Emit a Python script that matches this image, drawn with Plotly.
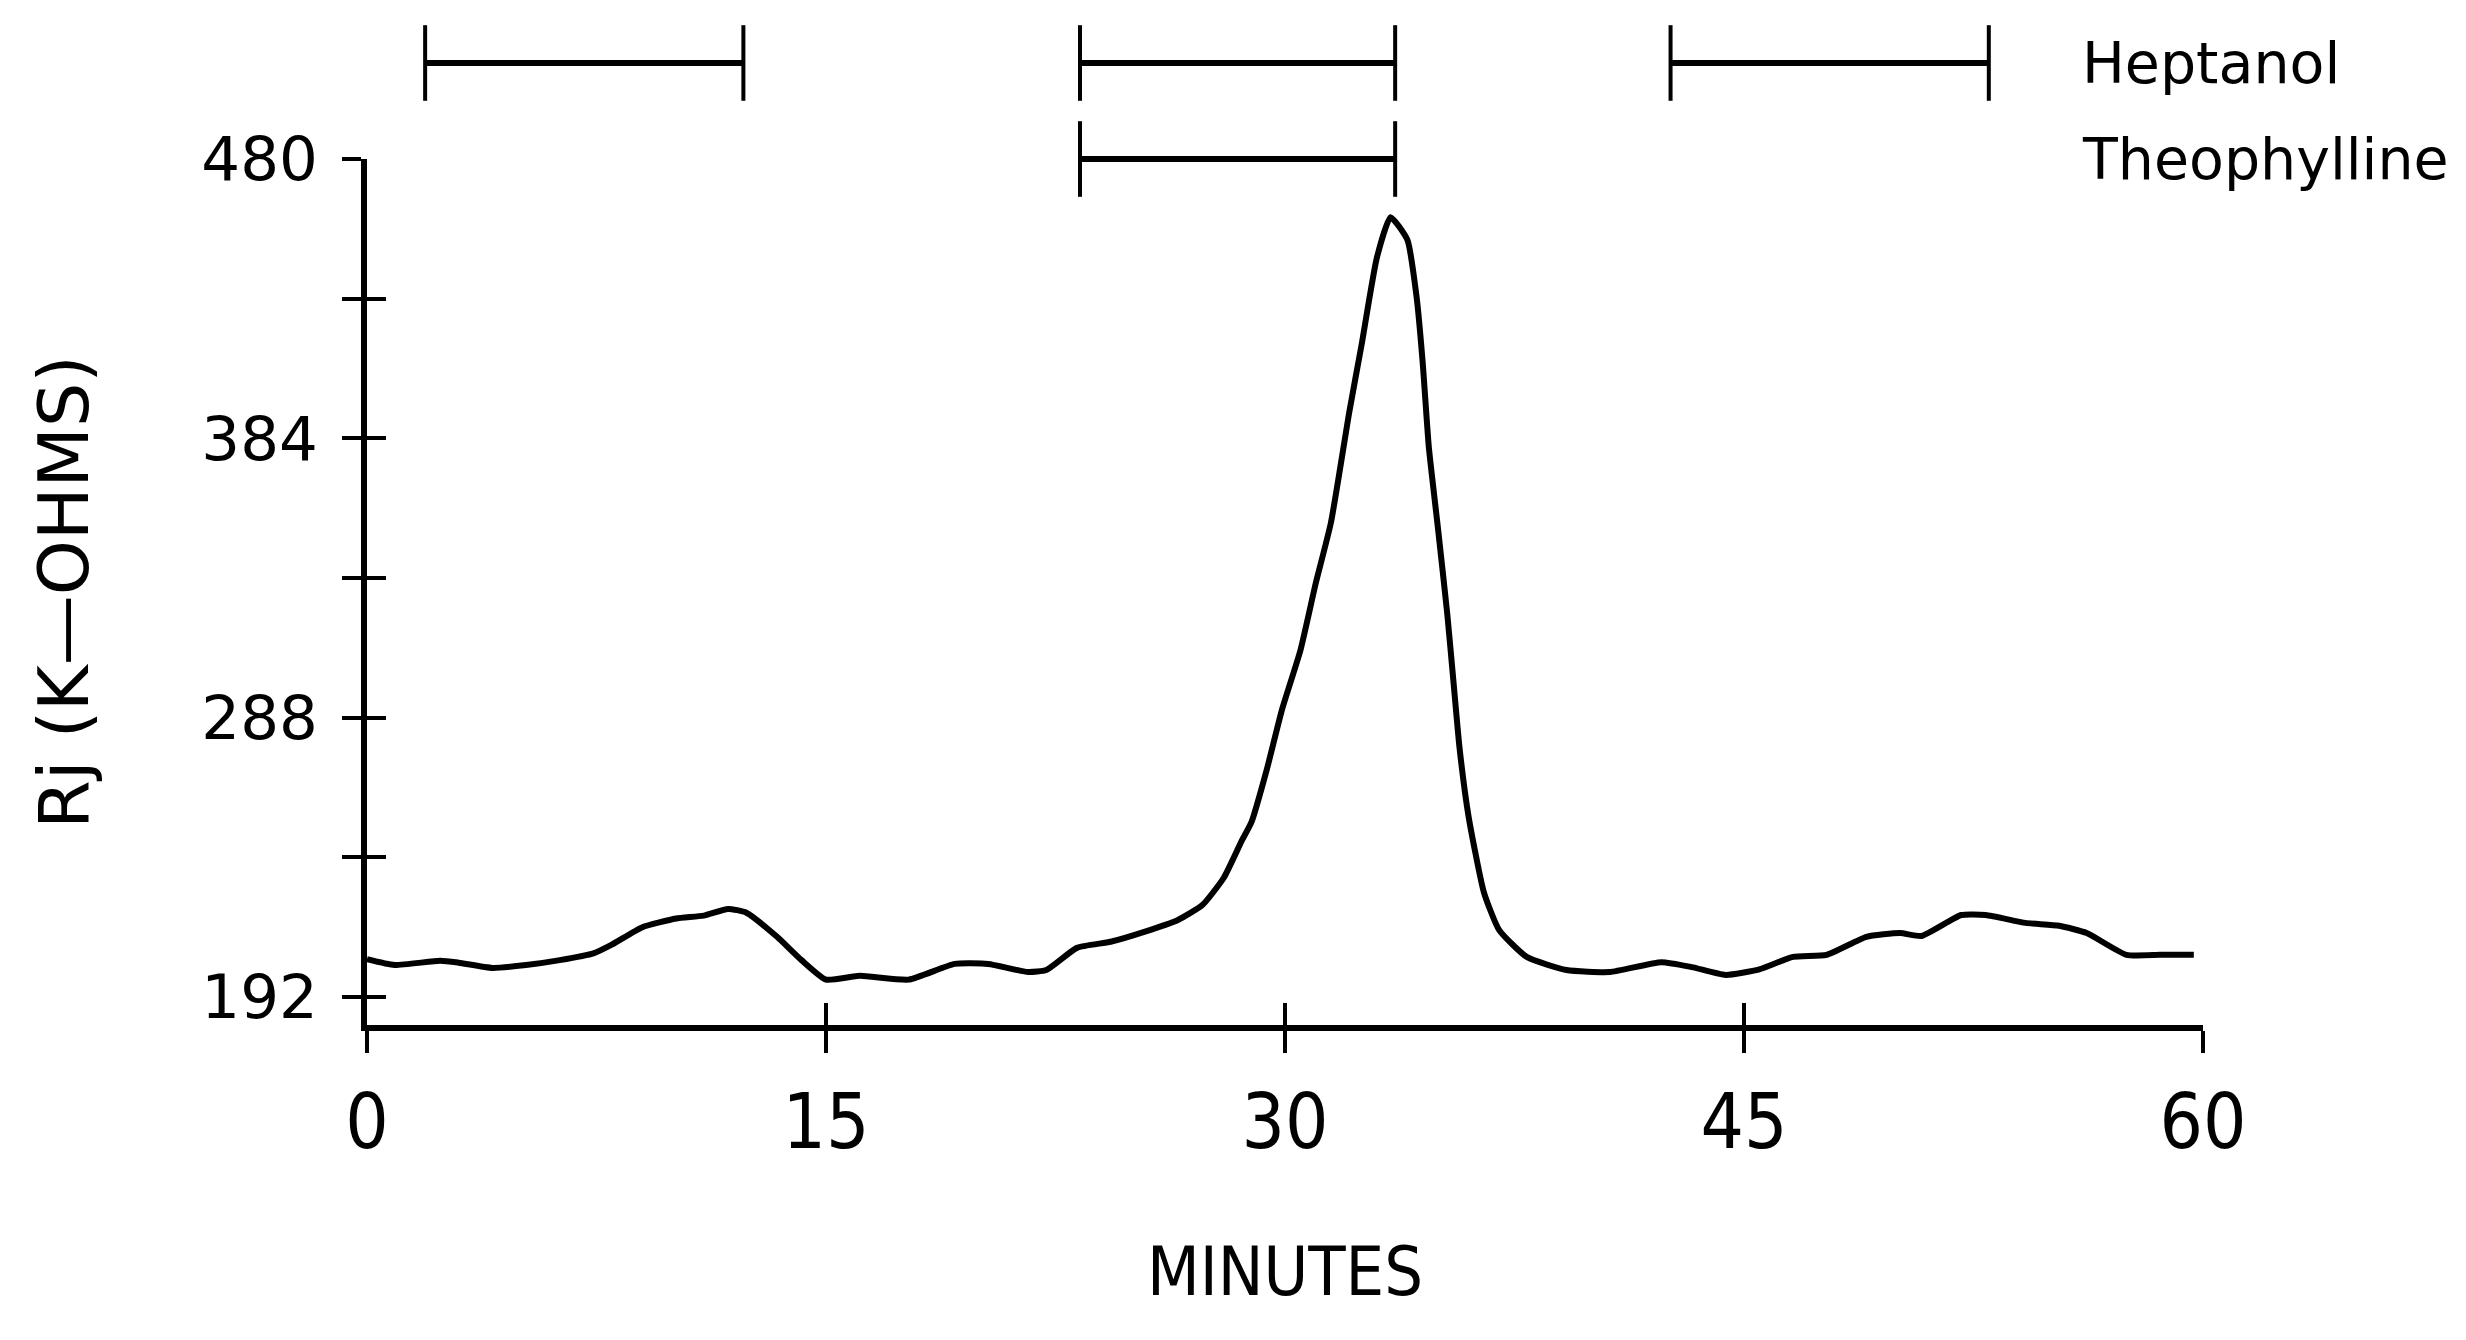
import plotly.graph_objects as go

# ---- data ----
minutes = [0.0, 0.9, 2.4, 3.0, 4.1, 5.2, 6.3, 7.4, 8.0, 9.0, 10.1, 11.0, 11.8, 12.4,
           13.4, 14.2, 15.0, 16.1, 17.7, 19.2, 20.3, 21.6, 22.2, 23.2, 24.3, 25.4,
           26.5, 27.3, 28.0, 28.6, 28.9, 29.4, 29.9, 30.5, 31.0, 31.5, 32.1, 32.5,
           33.0, 33.45, 34.0, 34.3, 34.5, 34.7, 35.0, 35.3, 35.5, 35.7, 36.0,
           36.5, 37.0, 37.9, 39.2, 40.6, 42.3, 43.3, 44.4, 45.5, 46.6, 47.7, 49.0,
           50.1, 50.8, 52.1, 52.9, 54.2, 55.3, 56.2, 57.5, 58.6, 59.7]
rj_kohms = [205, 203, 204.5, 203.8, 202, 203, 204.7, 207, 210, 216, 219, 220, 222.3, 221,
            212.7, 204.7, 198, 199.3, 198, 203.4, 203.4, 200.6, 201.3, 208.9, 211, 214.4,
            218.5, 223.6, 233, 246, 252, 270, 290.7, 311, 334, 355, 393, 416,
            446, 460, 452.2, 432.6, 410, 381, 353, 324, 301, 278, 254,
            228, 215, 205.8, 201.3, 200.6, 204, 202.3, 199.6, 201.5, 205.8, 206.5, 212.7,
            214, 213, 220.2, 220.2, 217.5, 216.5, 214, 206.5, 206.5, 206.5]

heptanol_start = [1.9, 23.3, 42.6]
heptanol_end = [12.3, 33.6, 53.0]
theophylline_start = [23.3]
theophylline_end = [33.6]
drug_names = ["Theophylline", "Heptanol"]   # row 0, row 1

x_ticks = [0, 15, 30, 45, 60]
y_ticks = [192, 240, 288, 336, 384, 432, 480]
y_ticktext = ["192", "", "288", "", "384", "", "480"]

NARROW = "Liberation Sans Narrow, Arial Narrow, DejaVu Sans Condensed, sans-serif"
WIDE = "DejaVu Sans, Verdana, sans-serif"

fig = go.Figure()

fig.add_trace(go.Scatter(x=minutes, y=rj_kohms, mode="lines",
                         line=dict(color="black", width=6, shape="spline", smoothing=0.5),
                         xaxis="x", yaxis="y", showlegend=False, hoverinfo="skip"))
# invisible copy so the overlay axes (crossing ticks) get drawn
fig.add_trace(go.Scatter(x=minutes, y=rj_kohms, mode="lines", opacity=0,
                         line=dict(width=0), xaxis="x2", yaxis="y3",
                         showlegend=False, hoverinfo="skip"))


def bars(starts, ends, row):
    xs, ys = [], []
    for s, e in zip(starts, ends):
        xs += [s, e, None]
        ys += [row, row, None]
    return xs, ys


for starts, ends, row in [(theophylline_start, theophylline_end, 0),
                          (heptanol_start, heptanol_end, 1)]:
    xs, ys = bars(starts, ends, row)
    fig.add_trace(go.Scatter(x=xs, y=ys, mode="lines+markers",
                             line=dict(color="black", width=6),
                             marker=dict(symbol="line-ns-open", size=54,
                                         line=dict(color="black", width=4)),
                             xaxis="x", yaxis="y2", showlegend=False,
                             hoverinfo="skip", cliponaxis=False))

for row, name in enumerate(drug_names):
    fig.add_annotation(text=name, x=0.933, xref="paper", y=row, yref="y2",
                       xanchor="left", yanchor="middle", showarrow=False,
                       font=dict(family=WIDE, size=57, color="black"))

axis_common = dict(showgrid=False, zeroline=False, color="black")

fig.update_layout(
    width=2466, height=1340,
    margin=dict(l=359, r=271, t=2, b=323, autoexpand=False),
    paper_bgcolor="white", plot_bgcolor="white",
    xaxis=dict(range=[0, 60], tickvals=x_ticks, ticks="outside", ticklen=22,
               tickwidth=4, tickcolor="black", showline=True, linewidth=6,
               linecolor="black", anchor="y", ticklabelstandoff=4,
               tickfont=dict(family=NARROW, size=76, color="black"),
               title=dict(text="MINUTES", standoff=84,
                          font=dict(family=NARROW, size=68, color="black")),
               **axis_common),
    xaxis2=dict(range=[0, 60], tickvals=x_ticks, ticks="inside", ticklen=22,
                tickwidth=4, tickcolor="black", showline=False,
                showticklabels=False, overlaying="x", anchor="y", side="bottom",
                **axis_common),
    yaxis=dict(range=[182.4, 480], domain=[0, 0.8532], tickvals=y_ticks,
               ticktext=y_ticktext, ticks="outside", ticklen=19, tickwidth=4,
               tickcolor="black", showline=True, linewidth=6, linecolor="black",
               anchor="x", ticklabelstandoff=12,
               tickfont=dict(family=WIDE, size=61, color="black"),
               title=dict(text="Rj (K\u2014OHMS)", standoff=92,
                          font=dict(family=WIDE, size=70, color="black")),
               **axis_common),
    yaxis3=dict(range=[182.4, 480], tickvals=y_ticks, ticks="inside", ticklen=19,
                tickwidth=4, tickcolor="black", showline=False,
                showticklabels=False, overlaying="y", anchor="x", side="left",
                **axis_common),
    yaxis2=dict(range=[-0.5625, 1.552], domain=[0.80, 1.0], visible=False,
                anchor="x", fixedrange=True),
)

fig.write_html("out.html")
